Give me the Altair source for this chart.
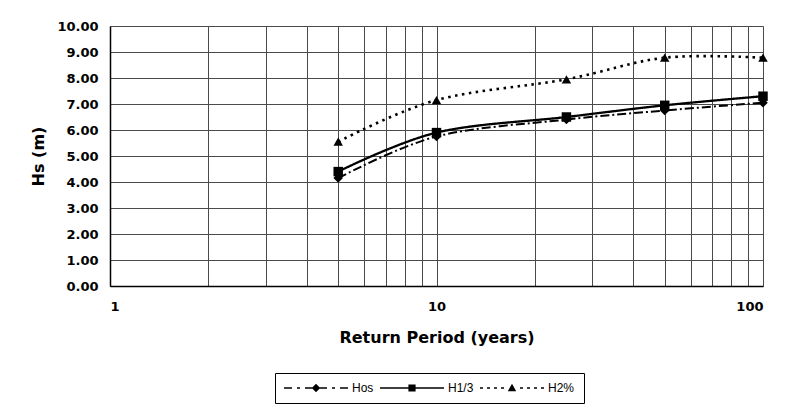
import altair as alt
import pandas as pd

# ---- data ----
periods = [5, 10, 25, 50, 100]
series_names = ["Hos", "H1/3", "H2%"]
hos = [4.15, 5.75, 6.4, 6.75, 7.05]
h13 = [4.4, 5.9, 6.5, 6.95, 7.3]
h2 = [5.55, 7.15, 7.95, 8.78, 8.78]

y_ticks = [0, 1, 2, 3, 4, 5, 6, 7, 8, 9, 10]
x_grid = [1, 2, 3, 4, 5, 6, 7, 8, 9, 10, 20, 30, 40, 50, 60, 70, 80, 90, 100]
x_labels = [1, 10, 100]

rows = []
for name, vals in zip(series_names, [hos, h13, h2]):
    for p, v in zip(periods, vals):
        rows.append({"period": p, "hs": v, "series": name})
df = pd.DataFrame(rows)

FONT = "DejaVu Sans"
LFONT = "Liberation Sans"

# ---- legend symbols: line pattern + marker as custom SVG paths ----
# declared symbol size 144 -> 6 px per path unit
U = 6.0
HALF = 0.75 / U  # half line thickness


def seg(a, b):
    return f"M{a/U:.3f},{-HALF:.3f}H{b/U:.3f}V{HALF:.3f}H{a/U:.3f}Z"


def mirror(segs):
    return segs + [(-b, -a) for (a, b) in reversed(segs)]


mk = 4.2 / U
diamond = f"M0,{-mk:.3f}L{mk:.3f},0L0,{mk:.3f}L{-mk:.3f},0Z"
sq = 3.6 / U
square = f"M{-sq:.3f},{-sq:.3f}H{sq:.3f}V{sq:.3f}H{-sq:.3f}Z"
triangle = f"M0,{-mk:.3f}L{mk:.3f},{mk*0.75:.3f}H{-mk:.3f}Z"

hos_segs = mirror([(-32, -24), (-19, -16)]) + [(-11, 11)]
h13_segs = [(-32, 32)]
h2_segs = mirror([(-32, -29), (-25, -22), (-18, -15), (-11, -8)])

legend_paths = [
    "".join(seg(a, b) for a, b in hos_segs) + diamond,
    "".join(seg(a, b) for a, b in h13_segs) + square,
    "".join(seg(a, b) for a, b in h2_segs) + triangle,
]

base = alt.Chart(df).encode(
    x=alt.X(
        "period:Q",
        scale=alt.Scale(type="log", domain=[1, 100]),
        axis=alt.Axis(
            values=x_grid,
            labelExpr="(datum.value == 1 || datum.value == 10 || datum.value == 100) ? format(datum.value, 'd') : ''",
            title="Return Period (years)",
            grid=True,
            ticks=False,
            labelPadding=14,
            titlePadding=16,
        ),
    ),
    y=alt.Y(
        "hs:Q",
        scale=alt.Scale(domain=[0, 10]),
        axis=alt.Axis(
            values=y_ticks,
            format=".2f",
            title="Hs (m)",
            grid=True,
            ticks=False,
            labelPadding=12,
            titlePadding=10,
        ),
    ),
)

dash_scale = alt.Scale(domain=series_names, range=[[9, 3, 2, 3], [1, 0], [2.5, 4.5]])
width_scale = alt.Scale(domain=series_names, range=[2, 2.6, 2.4])

lines = base.mark_line(interpolate="cardinal", color="black").encode(
    strokeDash=alt.StrokeDash("series:N", scale=dash_scale, legend=None),
    strokeWidth=alt.StrokeWidth("series:N", scale=width_scale, legend=None),
    detail="series:N",
)

points = base.mark_point(filled=True, color="black", opacity=1, size=90).encode(
    shape=alt.Shape(
        "series:N",
        scale=alt.Scale(domain=series_names, range=["diamond", "square", "triangle-up"]),
        legend=None,
    ),
)

legend_layer = (
    base.transform_filter("false")
    .mark_point(filled=True, color="black", opacity=1)
    .encode(
        shape=alt.Shape(
            "series:N",
            scale=alt.Scale(domain=series_names, range=legend_paths),
            legend=alt.Legend(
                orient="none",
                legendX=165,
                legendY=347,
                direction="horizontal",
                title=None,
                strokeColor="black",
                padding=9,
                symbolSize=144,
                symbolOffset=26,
                labelOffset=30,
                symbolFillColor="black",
                symbolStrokeWidth=0,
                symbolOpacity=1,
                labelFont=LFONT,
                labelFontSize=12,
                labelColor="black",
                columnPadding=6,
            ),
        ),
    )
)

chart = (
    alt.layer(lines, points, legend_layer)
    .resolve_scale(shape="independent")
    .properties(
        width=653,
        height=260,
        autosize=alt.AutoSizeParams(type="none"),
        padding={"left": 102, "top": 18, "right": 16, "bottom": 124},
        background="white",
    )
    .configure_view(stroke=None)
    .configure_axis(
        gridColor="#4a4a4a",
        gridWidth=1,
        gridOpacity=1,
        domainColor="black",
        domainWidth=1.5,
        labelFont=FONT,
        labelFontSize=13,
        labelFontWeight="bold",
        labelColor="black",
        titleFont=FONT,
        titleFontSize=16,
        titleFontWeight="bold",
        titleColor="black",
    )
)

chart.save("out.html", embed_options={"renderer": "svg", "actions": False})
